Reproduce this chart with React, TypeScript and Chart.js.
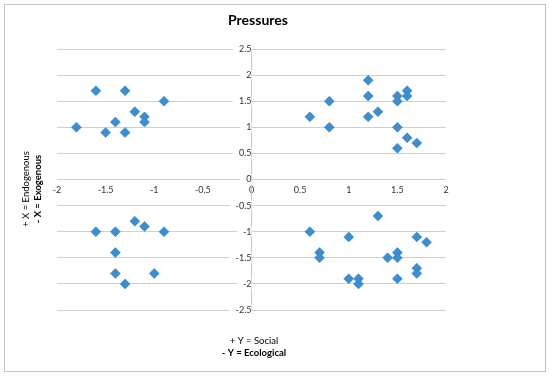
import React, { useEffect, useRef } from "react";
import { Chart, registerables } from "chart.js";

Chart.register(...registerables);

const chartTitle = "Pressures";
const xTitleLines = ["+ Y = Social", "- Y = Ecological"];
const yTitleLines = ["+ X = Endogenous", "- X = Exogenous"];

// Quadrant data (x, y)
const topLeftX = [-1.6, -1.3, -0.9, -1.2, -1.1, -1.1, -1.4, -1.8, -1.5, -1.3];
const topLeftY = [1.7, 1.7, 1.5, 1.3, 1.2, 1.1, 1.1, 1.0, 0.9, 0.9];
const topRightX = [1.2, 1.2, 1.5, 1.5, 1.6, 1.6, 0.8, 1.3, 0.6, 1.2, 0.8, 1.5, 1.6, 1.7, 1.5];
const topRightY = [1.9, 1.6, 1.6, 1.5, 1.7, 1.6, 1.5, 1.3, 1.2, 1.2, 1.0, 1.0, 0.8, 0.7, 0.6];
const bottomLeftX = [-1.2, -1.1, -1.6, -1.4, -0.9, -1.4, -1.4, -1.0, -1.3];
const bottomLeftY = [-0.8, -0.9, -1.0, -1.0, -1.0, -1.4, -1.8, -1.8, -2.0];
const bottomRightX = [1.3, 0.6, 1.0, 1.7, 1.8, 0.7, 0.7, 1.4, 1.5, 1.5, 1.7, 1.7, 1.0, 1.1, 1.1, 1.5];
const bottomRightY = [-0.7, -1.0, -1.1, -1.1, -1.2, -1.4, -1.5, -1.5, -1.4, -1.5, -1.7, -1.8, -1.9, -1.9, -2.0, -1.9];

const xMin = -2;
const xMax = 2;
const yMin = -2.5;
const yMax = 2.5;
const tickStep = 0.5;

const FONT = "Lato, 'Liberation Sans', sans-serif";

function toPoints(xs: number[], ys: number[]) {
  return xs.map((x, i) => ({ x, y: ys[i] }));
}

function formatTick(v: any) {
  return String(Math.round(Number(v) * 10) / 10);
}

const textPlugin = {
  id: "customText",
  afterDraw(chart: any) {
    const ctx = chart.ctx as CanvasRenderingContext2D;
    ctx.save();
    ctx.fillStyle = "#000";
    ctx.textAlign = "center";
    ctx.textBaseline = "middle";
    ctx.font = `bold 14px ${FONT}`;
    ctx.fillText(chartTitle, 258, 20);

    ctx.font = `9.5px ${FONT}`;
    ctx.fillText(xTitleLines[0], 254, 341);
    ctx.font = `bold 9.5px ${FONT}`;
    ctx.fillText(xTitleLines[1], 254, 352.5);

    ctx.save();
    ctx.translate(25.5, 189);
    ctx.rotate(-Math.PI / 2);
    ctx.font = `9.5px ${FONT}`;
    ctx.fillText(yTitleLines[0], 0, 0);
    ctx.restore();
    ctx.save();
    ctx.translate(37.5, 189);
    ctx.rotate(-Math.PI / 2);
    ctx.font = `bold 9.5px ${FONT}`;
    ctx.fillText(yTitleLines[1], 0, 0);
    ctx.restore();
    ctx.restore();
  },
};

export default function App() {
  const canvasRef = useRef<HTMLCanvasElement | null>(null);

  useEffect(() => {
    if (!canvasRef.current) return;
    const data = [
      ...toPoints(topLeftX, topLeftY),
      ...toPoints(topRightX, topRightY),
      ...toPoints(bottomLeftX, bottomLeftY),
      ...toPoints(bottomRightX, bottomRightY),
    ];
    const chart = new Chart(canvasRef.current, {
      type: "scatter",
      data: {
        datasets: [
          {
            label: "Pressures",
            data,
            pointStyle: "rectRot",
            pointRadius: 5,
            pointHoverRadius: 5,
            backgroundColor: "#3b8fd1",
            borderColor: "#2f7fc0",
            borderWidth: 0.5,
          },
        ],
      },
      options: {
        animation: false,
        responsive: false,
        devicePixelRatio: 1,
        layout: { padding: { left: 57, right: 104, top: 49, bottom: 67 } },
        plugins: {
          legend: { display: false },
          title: { display: false },
          tooltip: { enabled: false },
        },
        scales: {
          x: {
            type: "linear",
            min: xMin,
            max: xMax,
            position: { y: 0 } as any,
            grid: { display: false, drawTicks: false },
            border: { display: false },
            ticks: {
              stepSize: tickStep,
              padding: 5,
              color: "#333",
              font: { family: FONT, size: 9 },
              callback: formatTick,
              showLabelBackdrop: true,
              backdropColor: "#ffffff",
              backdropPadding: 1,
            } as any,
          },
          y: {
            type: "linear",
            min: yMin,
            max: yMax,
            position: { x: 0 } as any,
            grid: {
              color: "#d0d0d0",
              lineWidth: 1,
              drawTicks: true,
              tickLength: 3,
            },
            border: { display: true, color: "#c8c8c8", width: 1 },
            ticks: {
              stepSize: tickStep,
              padding: 3,
              color: "#333",
              font: { family: FONT, size: 9 },
              callback: formatTick,
              showLabelBackdrop: true,
              backdropColor: "#ffffff",
              backdropPadding: { left: 6, right: 0, top: 0, bottom: 0 },
            } as any,
          },
        },
      },
      plugins: [textPlugin],
    });
    return () => chart.destroy();
  }, []);

  return (
    <div style={{ position: "fixed", left: 0, top: 0, width: 550, height: 377, background: "#fff" }}>
      <div
        style={{
          position: "absolute",
          left: 4,
          top: 4,
          width: 542,
          height: 368,
          border: "1px solid #c4c4c4",
          boxSizing: "border-box",
        }}
      />
      <canvas ref={canvasRef} width={550} height={377} style={{ position: "absolute", left: 0, top: 0 }} />
    </div>
  );
}
